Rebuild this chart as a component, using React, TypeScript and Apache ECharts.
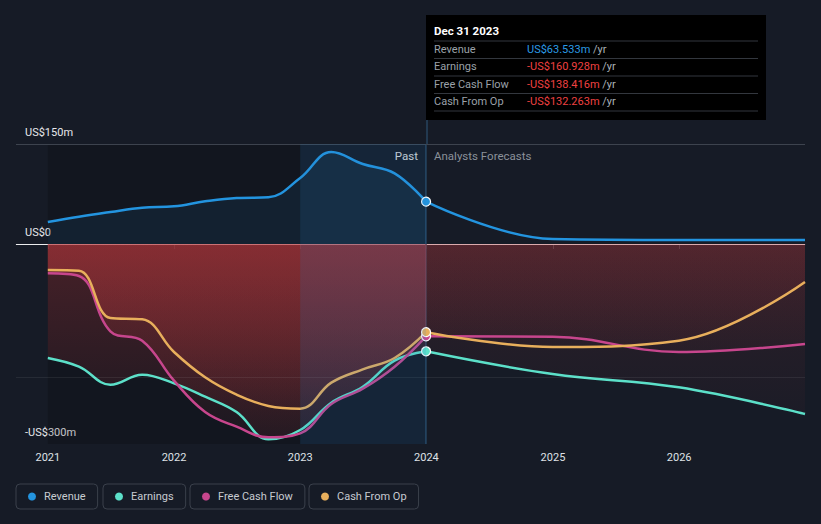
import React, { useEffect, useRef } from "react";
import * as echarts from "echarts";

// ---- data ----
const pastDates = [
  "2021-01-01", "2021-04-01", "2021-07-01", "2021-10-01",
  "2022-01-01", "2022-04-01", "2022-07-01", "2022-10-01",
  "2023-01-01", "2023-04-01", "2023-07-01", "2023-10-01", "2023-12-31",
];
const forecastDates = ["2023-12-31", "2024-12-31", "2025-12-31", "2026-12-31"];

const revenuePast = [33, 41, 48, 54.5, 56.5, 64, 69, 70, 99, 138, 120, 106, 63.533];
const revenueForecast = [63.533, 7.5, 6, 6];

const earningsPast = [-171, -184, -211, -196, -209, -229, -252, -293, -279, -238, -214, -175, -160.928];
const earningsForecast = [-160.928, -195, -215, -255];

const fcfPast = [-44, -48, -131, -145, -205, -252, -274, -290, -284, -240, -217, -184, -138.416];
const fcfForecast = [-138.416, -139, -162, -150];

const cfoPast = [-39, -40, -111, -113, -162, -200, -226, -243, -247, -208, -188, -171, -132.263];
const cfoForecast = [-132.263, -154.5, -145, -57];

const yearTicks = ["2021-01-01", "2022-01-01", "2023-01-01", "2024-01-01", "2025-01-01", "2026-01-01"];
const yTickValues = [150, 0, -300];

const COLORS: Record<string, string> = {
  Revenue: "#2394df",
  Earnings: "#5ce0c9",
  "Free Cash Flow": "#c7468d",
  "Cash From Op": "#e8af5c",
};

const FONT = "Roboto, 'Noto Sans', sans-serif";

function ts(d: string) {
  const [y, m, day] = d.split("-").map(Number);
  return new Date(y, m - 1, day).getTime();
}

function pairs(dates: string[], vals: number[]) {
  return dates.map((d, i) => [ts(d), vals[i]]);
}

function forecastData(vals: number[]) {
  return forecastDates.map((d, i) =>
    i === 0
      ? { value: [ts(d), vals[i]], symbol: "circle", symbolSize: 9 }
      : { value: [ts(d), vals[i]], symbol: "none" }
  );
}

function redArea(top: number, bottom: number) {
  return {
    color: {
      type: "linear", x: 0, y: 0, x2: 0, y2: 1,
      colorStops: [
        { offset: 0, color: `rgba(188,56,60,${top})` },
        { offset: 1, color: `rgba(188,56,60,${bottom})` },
      ],
    },
  };
}

function lineSeries(name: string, data: any[], extra: any = {}) {
  return {
    type: "line",
    name,
    data,
    smooth: 0.4,
    showSymbol: true,
    symbol: "none",
    lineStyle: { width: 2.5, color: COLORS[name] },
    itemStyle: { color: COLORS[name], borderColor: "#ffffff", borderWidth: 1.2 },
    emphasis: { disabled: true },
    silent: true,
    ...extra,
  };
}

function yLabel(v: number) {
  if (v === 0) return "US$0";
  if (v < 0) return `-US$${-v}m`;
  return `US$${v}m`;
}

const legendNames = ["Revenue", "Earnings", "Free Cash Flow", "Cash From Op"];
const legendLefts = [16, 103, 190, 309];

export default function App() {
  const ref = useRef<HTMLDivElement>(null);

  useEffect(() => {
    document.body.style.margin = "0";
    document.body.style.background = "#161b26";
    const chart = echarts.init(ref.current!, null, { renderer: "svg" });

    const tickVals = yearTicks.map(ts);

    const option: any = {
      animation: false,
      backgroundColor: "#161b26",
      textStyle: { fontFamily: FONT },
      grid: { left: 16, right: 16, top: 144, bottom: 80, containLabel: false },
      xAxis: {
        type: "value",
        min: ts("2020-10-01"),
        max: ts("2026-12-31"),
        axisLine: { show: true, lineStyle: { color: "#3c424d", width: 1 } },
        axisTick: {
          show: true,
          length: 5,
          lineStyle: { color: "#3c424d" },
          customValues: tickVals,
        },
        axisLabel: {
          color: "#dfe2e6",
          fontSize: 11,
          margin: 8,
          fontFamily: FONT,
          customValues: tickVals,
          formatter: (v: number) => String(new Date(v).getFullYear()),
        },
        splitLine: { show: false },
      },
      yAxis: {
        type: "value",
        min: -300,
        max: 150,
        axisLine: { show: false },
        axisTick: { show: false },
        splitLine: { show: false },
        axisLabel: {
          inside: true,
          margin: 9,
          color: "#e6e8eb",
          fontSize: 11,
          fontFamily: FONT,
          verticalAlign: "bottom",
          padding: [0, 0, 6, 0],
          customValues: yTickValues,
          formatter: (v: number) => yLabel(v),
        },
      },
      legend: legendNames.map((n, i) => ({
        data: [n],
        left: legendLefts[i],
        top: 484,
        orient: "horizontal",
        icon: "circle",
        itemWidth: 8,
        itemHeight: 8,
        itemStyle: { borderWidth: 0 },
        padding: [7, 12, 7, 12],
        borderColor: "#3a404b",
        borderWidth: 1,
        borderRadius: 4,
        selectedMode: false,
        textStyle: { color: "#c7cbd1", fontSize: 11, fontFamily: FONT, padding: [0, 0, 0, 3] },
      })),
      series: [
        lineSeries("Earnings", pairs(pastDates, earningsPast), {
          areaStyle: redArea(0.45, 0.08),
          markArea: {
            silent: true,
            itemStyle: { color: "rgba(0,0,0,0.16)" },
            data: [[{ xAxis: ts("2021-01-01") }, { xAxis: ts("2023-12-31") }]],
          },
          markLine: {
            silent: true,
            z: 1,
            symbol: ["none", "none"],
            label: { show: false },
            data: [
              { yAxis: 0, lineStyle: { color: "rgba(255,255,255,0.9)", width: 1, type: "solid" } },
              { xAxis: ts("2023-12-31"), lineStyle: { color: "#27445f", width: 1.5, type: "solid" } },
            ],
          },
        }),
        lineSeries("Earnings", forecastData(earningsForecast), { areaStyle: redArea(0.2, 0.05) }),
        lineSeries("Free Cash Flow", pairs(pastDates, fcfPast), { areaStyle: redArea(0.45, 0.08) }),
        lineSeries("Free Cash Flow", forecastData(fcfForecast), { areaStyle: redArea(0.2, 0.05) }),
        lineSeries("Cash From Op", pairs(pastDates, cfoPast), { areaStyle: redArea(0.45, 0.08) }),
        lineSeries("Cash From Op", forecastData(cfoForecast), { areaStyle: redArea(0.2, 0.05) }),
        lineSeries("Revenue", pairs(pastDates, revenuePast), {
          areaStyle: { color: "rgba(35,148,223,0.13)" },
          markLine: {
            silent: true,
            symbol: ["none", "none"],
            label: { show: false },
            data: [
              { yAxis: 150, lineStyle: { color: "#3d434e", width: 1, type: "solid" } },
              { yAxis: -200, lineStyle: { color: "rgba(255,255,255,0.07)", width: 1, type: "solid" } },
            ],
          },
        }),
        lineSeries("Revenue", forecastData(revenueForecast), {
          markArea: {
            silent: true,
            z: 10,
            itemStyle: { color: "rgba(40,130,200,0.15)" },
            data: [[{ xAxis: ts("2023-01-01") }, { xAxis: ts("2023-12-31") }]],
          },
        }),
      ],
      graphic: [
        { type: "rect", shape: { x: 426, y: 15, width: 340, height: 105 }, style: { fill: "#000000" }, silent: true },
        { type: "line", shape: { x1: 427, y1: 120, x2: 427, y2: 144 }, style: { stroke: "#27445f", lineWidth: 1.5 }, silent: true },
        { type: "text", x: 434, y: 31, style: { text: "Dec 31 2023", fill: "#ffffff", font: `bold 11.5px ${FONT}`, verticalAlign: "middle" } },
        ...[41, 58.5, 76, 93.5, 111].map((y) => ({
          type: "line",
          shape: { x1: 434, y1: y, x2: 758, y2: y },
          style: { stroke: "#33373e", lineWidth: 1 },
          silent: true,
        })),
        ...([
          ["Revenue", "US$63.533m", "#2b9be6", 49.5],
          ["Earnings", "-US$160.928m", "#ef4141", 66.5],
          ["Free Cash Flow", "-US$138.416m", "#ef4141", 84],
          ["Cash From Op", "-US$132.263m", "#ef4141", 101.5],
        ] as [string, string, string, number][]).flatMap(([label, val, col, y]) => [
          { type: "text", x: 434, y, style: { text: label, fill: "#9ba1a9", font: `11px ${FONT}`, verticalAlign: "middle" } },
          {
            type: "text",
            x: 527,
            y,
            style: {
              text: `{v|${val}} {u|/yr}`,
              font: `11px ${FONT}`,
              verticalAlign: "middle",
              rich: {
                v: { fill: col, font: `11px ${FONT}` },
                u: { fill: "#aab0b7", font: `11px ${FONT}` },
              },
            },
          },
        ]),
        { type: "text", x: 418, y: 156, style: { text: "Past", fill: "#ffffff", font: `11.5px ${FONT}`, align: "right", verticalAlign: "middle" } },
        { type: "text", x: 434, y: 156, style: { text: "Analysts Forecasts", fill: "#8b919a", font: `11.5px ${FONT}`, verticalAlign: "middle" } },
      ],
    };

    chart.setOption(option);
    return () => chart.dispose();
  }, []);

  return (
    <div
      ref={ref}
      style={{ position: "fixed", left: 0, top: 0, width: 821, height: 524, background: "#161b26" }}
    />
  );
}
